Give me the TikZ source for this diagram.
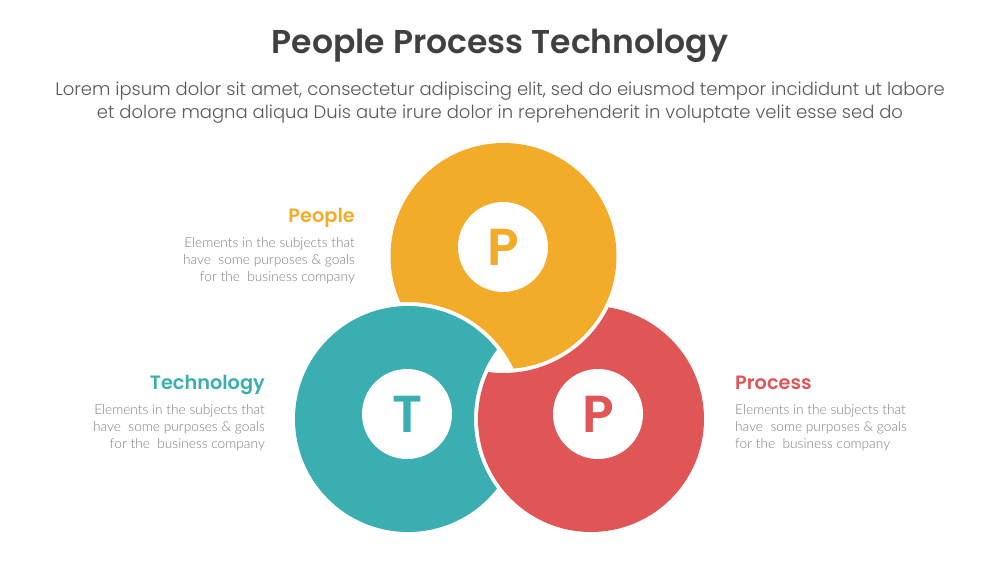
\documentclass[tikz,border=0pt]{standalone}
\usepackage{fontspec}
\usepackage{xcolor}
\newfontfamily\popsemi{Poppins SemiBold}
\newfontfamily\poplight{Poppins Light}
\newfontfamily\latolight{Lato Light}
\definecolor{pplorange}{RGB}{243, 171, 42}
\definecolor{tecteal}{RGB}{58, 174, 176}
\definecolor{prcred}{RGB}{224, 86, 86}
\definecolor{titlegray}{RGB}{64, 64, 64}
\definecolor{leadgray}{RGB}{88, 88, 88}
\definecolor{descgray}{RGB}{125, 125, 125}

\begin{document}
\begin{tikzpicture}[x=1pt, y=-1pt]
\useasboundingbox (0,0) rectangle (1000,563);
% Title and lead text
\node[font=\popsemi\fontsize{33}{38}\selectfont, text=titlegray] (title) at (500,46) {People Process Technology};
\node[font=\poplight\fontsize{18}{23}\selectfont, text=leadgray, align=center] (lead) at (500,102.5) {Lorem ipsum dolor sit amet, consectetur adipiscing elit, sed do eiusmod tempor incididunt ut labore\\et dolore magna aliqua Duis aute irure dolor in reprehenderit in voluptate velit esse sed do};
% Circle centres
\coordinate (ppl) at (503.5,256);
\coordinate (tec) at (408,419);
\coordinate (prc) at (591,419);
% Rings, each one cut by the next
\foreach \c/\cut/\col in {ppl/tec/pplorange, tec/prc/tecteal, prc/ppl/prcred} {
    \begin{scope}[even odd rule]
        \clip (-10,-10) rectangle (1010,573) (\cut) circle[radius=117pt];
        \fill[\col] (\c) circle[radius=113pt];
    \end{scope}
}
% Letters
\foreach \n/\x/\y/\col/\ltr in {ppl/503/247/pplorange/P, tec/407/414/tecteal/T, prc/598/414/prcred/P} {
    \node[circle, fill=white, minimum size=90pt, inner sep=0pt, text=\col, font=\popsemi\fontsize{52}{52}\selectfont] (\n-ltr) at (\x,\y) {\ltr};
}
% Labels
\foreach \n/\x/\y/\side/\al/\col/\head in {ppl/355/222/east/right/pplorange/People, tec/265/389/east/right/tecteal/Technology, prc/735/389/west/left/prcred/Process} {
    \node[anchor=base \side, inner sep=0pt, text=\col, font=\popsemi\fontsize{19.3}{22}\selectfont] (\n-head) at (\x,\y) {\head};
    \node[anchor=north \side, inner sep=0pt, align=\al, text=descgray, font=\latolight\fontsize{13.7}{17}\selectfont] (\n-desc) at (\x,\y+15.5) {Elements in the subjects that\\have\ \ some purposes \& goals\\for the\ \ business company};
}
\end{tikzpicture}
\end{document}
